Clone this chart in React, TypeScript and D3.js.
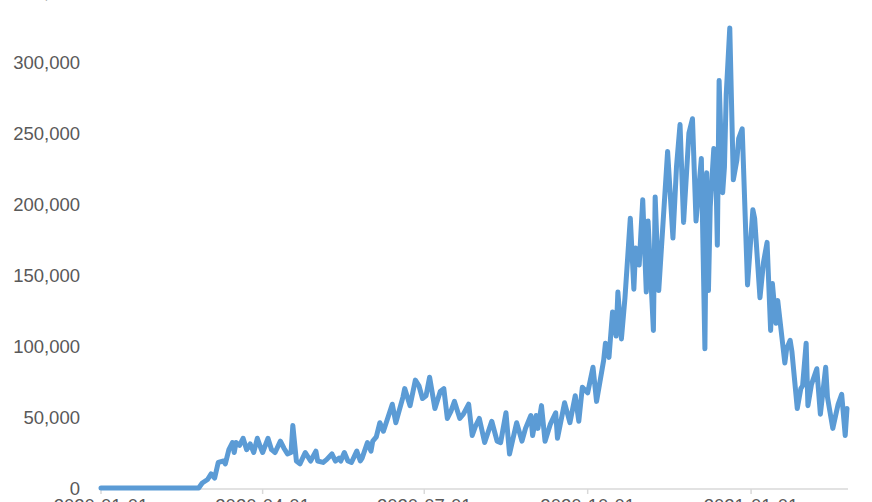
import React from "react";
import * as d3 from "d3";

const dates = [
  "2020-01-01","2020-02-25","2020-02-27","2020-03-01","2020-03-03","2020-03-05","2020-03-07","2020-03-10","2020-03-11","2020-03-13",
  "2020-03-15","2020-03-16","2020-03-17","2020-03-19","2020-03-21","2020-03-23","2020-03-25","2020-03-27","2020-03-29","2020-03-31",
  "2020-04-01","2020-04-04","2020-04-06","2020-04-08","2020-04-11","2020-04-13","2020-04-15","2020-04-17","2020-04-18","2020-04-20",
  "2020-04-22","2020-04-25","2020-04-28","2020-05-01","2020-05-02","2020-05-05","2020-05-07","2020-05-10","2020-05-12","2020-05-14",
  "2020-05-15","2020-05-17","2020-05-19","2020-05-21","2020-05-24","2020-05-26","2020-05-27","2020-05-30","2020-06-01","2020-06-02",
  "2020-06-04","2020-06-06","2020-06-08","2020-06-13","2020-06-15","2020-06-19","2020-06-20","2020-06-23","2020-06-26","2020-06-28",
  "2020-06-30","2020-07-02","2020-07-04","2020-07-07","2020-07-10","2020-07-12","2020-07-14","2020-07-16","2020-07-18","2020-07-21",
  "2020-07-23","2020-07-26","2020-07-28","2020-07-30","2020-08-01","2020-08-04","2020-08-08","2020-08-11","2020-08-13","2020-08-16",
  "2020-08-18","2020-08-22","2020-08-25","2020-08-27","2020-08-30","2020-08-31","2020-09-02","2020-09-03","2020-09-05","2020-09-07",
  "2020-09-10","2020-09-13","2020-09-14","2020-09-18","2020-09-21","2020-09-24","2020-09-26","2020-09-28","2020-10-01","2020-10-04",
  "2020-10-06","2020-10-10","2020-10-11","2020-10-13","2020-10-15","2020-10-17","2020-10-18","2020-10-20","2020-10-22","2020-10-25",
  "2020-10-27","2020-10-28","2020-10-30","2020-11-01","2020-11-03","2020-11-04","2020-11-07","2020-11-08","2020-11-10","2020-11-15",
  "2020-11-18","2020-11-20","2020-11-22","2020-11-24","2020-11-27","2020-11-29","2020-12-01","2020-12-04","2020-12-06","2020-12-07",
  "2020-12-08","2020-12-09","2020-12-11","2020-12-12","2020-12-13","2020-12-14","2020-12-16","2020-12-17","2020-12-18","2020-12-20",
  "2020-12-22","2020-12-24","2020-12-25","2020-12-27","2020-12-30","2021-01-02","2021-01-03","2021-01-06","2021-01-08","2021-01-10",
  "2021-01-12","2021-01-13","2021-01-15","2021-01-16","2021-01-20","2021-01-21","2021-01-23","2021-01-24","2021-01-27","2021-01-29",
  "2021-01-30","2021-02-01","2021-02-02","2021-02-04","2021-02-07","2021-02-09","2021-02-12","2021-02-13","2021-02-16","2021-02-19",
  "2021-02-21","2021-02-23","2021-02-24"
];

const cases = [
  0,0,3500,6000,10000,7000,18000,19000,17000,27000,
  32000,25000,32000,30000,35000,27000,31000,25000,35000,28000,
  25000,35000,27000,25000,33000,28000,24000,25000,44000,19000,
  17000,25000,19000,26000,19000,18000,20000,24000,19000,21000,
  19000,25000,19000,18000,26000,19000,21000,32000,26000,33000,
  36000,46000,40000,59000,46000,64000,70000,58000,76000,72000,
  63000,65000,78000,56000,68000,70000,49000,54000,61000,49000,
  52000,59000,37000,44000,49000,32000,47000,33000,32000,53000,
  24000,46000,33000,42000,51000,37000,51000,42000,58000,33000,
  45000,53000,35000,60000,46000,65000,47000,71000,67000,85000,
  61000,90000,102000,92000,124000,107000,138000,105000,134000,190000,
  140000,169000,157000,203000,138000,188000,111000,205000,139000,237000,
  176000,226000,256000,187000,250000,260000,188000,232000,98000,222000,
  139000,198000,239000,235000,171000,287000,208000,226000,277000,324000,
  217000,231000,246000,253000,143000,196000,190000,134000,159000,173000,
  111000,144000,116000,132000,88000,98000,104000,96000,56000,70000,
  72000,102000,58000,73000,84000,52000,85000,64000,42000,59000,
  66000,37000,56000
];

const xTickDates = ["2020-01-01", "2020-04-01", "2020-07-01", "2020-10-01", "2021-01-01"];
const yTickValues = [0, 50000, 100000, 150000, 200000, 250000, 300000, 350000];

const W = 872;
const H = 502;

export default function App() {
  const parse = d3.utcParse("%Y-%m-%d");
  const data = dates.map((d, i) => ({ date: parse(d) as Date, value: cases[i] }));

  const x = d3
    .scaleUtc()
    .domain([parse("2020-01-01") as Date, parse("2021-02-24") as Date])
    .range([101, 847]);
  const y = d3.scaleLinear().domain([0, 300000]).range([488, 62]);

  const line = d3
    .line<{ date: Date; value: number }>()
    .x((d) => x(d.date))
    .y((d) => y(d.value));

  const fmt = d3.format(",");
  const font = "'Liberation Sans', Arial, sans-serif";

  return (
    <svg
      width={W}
      height={H}
      style={{ position: "absolute", left: 0, top: 0, background: "#fff" }}
    >
      {yTickValues.map((v) => (
        <text
          key={v}
          x={80}
          y={y(v)}
          textAnchor="end"
          dominantBaseline="central"
          fontFamily={font}
          fontSize={18.5}
          fill="#595959"
        >
          {fmt(v)}
        </text>
      ))}
      <line x1={101} x2={848} y1={489} y2={489} stroke="#d9d9d9" strokeWidth={1.5} />
      {xTickDates.map((t) => {
        const xv = x(parse(t) as Date);
        return (
          <g key={t}>
            <line x1={xv} x2={xv} y1={489} y2={494} stroke="#d9d9d9" strokeWidth={1.5} />
            <text
              x={xv}
              y={512}
              textAnchor="middle"
              fontFamily={font}
              fontSize={18.5}
              fill="#595959"
            >
              {t}
            </text>
          </g>
        );
      })}
      <path
        d={line(data) || ""}
        fill="none"
        stroke="#5b9bd5"
        strokeWidth={5}
        strokeLinejoin="round"
        strokeLinecap="round"
      />
    </svg>
  );
}
